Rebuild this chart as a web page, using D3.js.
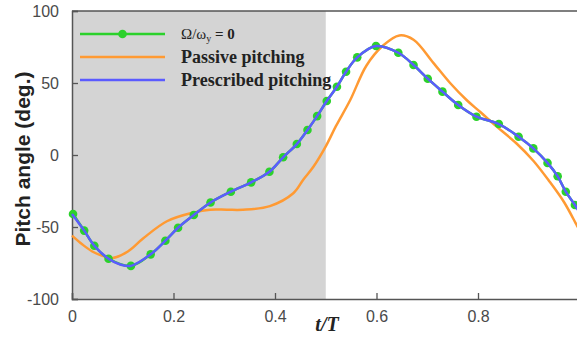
<!DOCTYPE html>
<html>
<head>
<meta charset="utf-8">
<script src="https://cdn.jsdelivr.net/npm/d3@7/dist/d3.min.js"></script>
<style>
  html, body { margin: 0; padding: 0; background: #fff; }
  svg { display: block; }
</style>
</head>
<body>
<svg id="chart" width="577" height="339"></svg>
<script>
// ---- Data ----
const xTicks = [0, 0.2, 0.4, 0.6, 0.8];
const xTickLabels = ["0", "0.2", "0.4", "0.6", "0.8"];
const yTicks = [100, 50, 0, -50, -100];
const yTickLabels = ["100", "50", "0", "-50", "-100"];
const shadedRange = [0, 0.5];

// Ω/ωy = 0 (green markers) – sampled points
const tMarkers = [0.002, 0.024, 0.044, 0.072, 0.116, 0.155, 0.184, 0.209, 0.240, 0.273,
                  0.313, 0.353, 0.389, 0.416, 0.443, 0.464, 0.483, 0.502, 0.522, 0.540,
                  0.562, 0.599, 0.643, 0.673, 0.701, 0.730, 0.761, 0.797, 0.841, 0.880,
                  0.909, 0.937, 0.957, 0.973, 0.991];
const zeroRatioPitch = [-41, -52.5, -63, -72, -77, -69, -59.5, -50.5, -41.7, -33,
                        -25.5, -19, -11.6, -1.6, 7.6, 17.4, 27, 37.5, 47.4, 57.8,
                        67.8, 75.7, 71, 62.5, 53, 44, 34.7, 26.6, 21.5, 12.7,
                        4.6, -5.5, -14.8, -25.5, -34.7];

// Prescribed pitching (blue line)
const tPrescribed = [0, 0.024, 0.044, 0.072, 0.095, 0.116, 0.155, 0.184, 0.209, 0.240,
                     0.273, 0.313, 0.353, 0.389, 0.416, 0.443, 0.464, 0.483, 0.502, 0.522,
                     0.540, 0.562, 0.599, 0.643, 0.673, 0.701, 0.730, 0.761, 0.797, 0.841,
                     0.880, 0.909, 0.937, 0.957, 0.973, 0.991, 1.0];
const prescribedPitch = [-41, -52.5, -63, -72, -76, -77, -69, -59.5, -50.5, -41.7,
                         -33, -25.5, -19, -11.6, -1.6, 7.6, 17.4, 27, 37.5, 47.4,
                         57.8, 67.8, 75.7, 71, 62.5, 53, 44, 34.7, 26.6, 21.5,
                         12.7, 4.6, -5.5, -14.8, -25.5, -34.7, -40];

// Passive pitching (orange line)
const tPassive = [0, 0.02, 0.04, 0.06, 0.08, 0.11, 0.14, 0.187, 0.239, 0.272,
                  0.305, 0.337, 0.39, 0.436, 0.456, 0.476, 0.5, 0.52, 0.548, 0.58,
                  0.613, 0.645, 0.673, 0.712, 0.745, 0.778, 0.804, 0.837, 0.876, 0.909,
                  0.94, 0.97, 0.995, 1.0];
const passivePitch = [-56, -62, -67, -70, -71.5, -67, -58, -46, -40, -38,
                      -38, -38, -35.5, -26.6, -17, -8, 6, 20, 38, 62,
                      76, 83, 80, 64, 50, 38, 30, 19.7, 8, -4,
                      -18, -33, -49, -52];

const legendLabels = ["Passive pitching", "Prescribed pitching"];

// ---- Layout ----
const svg = d3.select("#chart");
const x = d3.scaleLinear().domain([0, 1]).range([72, 579.5]);
const y = d3.scaleLinear().domain([-100, 100]).range([299, 11]);

const colGreen = "#2bd12b", colOrange = "#ff9a33", colBlue = "#5b5bff", axisCol = "#555";

// shaded region
svg.append("rect")
  .attr("x", x(shadedRange[0])).attr("y", y(100))
  .attr("width", x(shadedRange[1]) - x(shadedRange[0]))
  .attr("height", y(-100) - y(100))
  .attr("fill", "#d4d4d4");

// axes with inward ticks
const xAxis = d3.axisBottom(x).tickValues(xTicks).tickSize(-6)
  .tickFormat((d, i) => xTickLabels[i]).tickPadding(12);
const gx = svg.append("g").attr("transform", `translate(0,${y(-100)})`).call(xAxis);
const yAxis = d3.axisLeft(y).tickValues(yTicks).tickSize(-6)
  .tickFormat((d, i) => yTickLabels[i]).tickPadding(13);
const gy = svg.append("g").attr("transform", `translate(${x(0)},0)`).call(yAxis);
[gx, gy].forEach(g => {
  g.select(".domain").attr("stroke", axisCol).attr("stroke-width", 1.5);
  g.selectAll(".tick line").attr("stroke", axisCol).attr("stroke-width", 1.3);
  g.selectAll(".tick text")
    .attr("font-family", "Liberation Sans, Arial, sans-serif")
    .attr("font-size", 16).attr("fill", "#4a4a4a");
});
gy.selectAll(".tick text").attr("dy", "0.36em");

// top / right frame
svg.append("line").attr("x1", x(0)).attr("x2", x(1)).attr("y1", y(100)).attr("y2", y(100))
  .attr("stroke", axisCol).attr("stroke-width", 1.5);
svg.append("line").attr("x1", x(1)).attr("x2", x(1)).attr("y1", y(100)).attr("y2", y(-100))
  .attr("stroke", axisCol).attr("stroke-width", 1.5);

// lines
const line = d3.line().x(d => x(d[0])).y(d => y(d[1])).curve(d3.curveCatmullRom.alpha(0.5));
const zip = (a, b) => a.map((v, i) => [v, b[i]]);

const plot = svg.append("g");
plot.append("path").datum(zip(tPassive, passivePitch))
  .attr("d", line).attr("fill", "none").attr("stroke", colOrange).attr("stroke-width", 2.5);
plot.append("path").datum(zip(tMarkers, zeroRatioPitch))
  .attr("d", line).attr("fill", "none").attr("stroke", colGreen).attr("stroke-width", 2.5);
plot.selectAll("circle.m").data(zip(tMarkers, zeroRatioPitch)).enter()
  .append("circle").attr("class", "m")
  .attr("cx", d => x(d[0])).attr("cy", d => y(d[1])).attr("r", 4.3)
  .attr("fill", colGreen);
plot.append("path").datum(zip(tPrescribed, prescribedPitch))
  .attr("d", line).attr("fill", "none").attr("stroke", colBlue).attr("stroke-width", 2.5);

// legend
const lg = svg.append("g");
const lx1 = 80, lx2 = 165, tx = 181;
const rows = [34, 57, 80];
lg.append("line").attr("x1", lx1).attr("x2", lx2).attr("y1", rows[0]).attr("y2", rows[0])
  .attr("stroke", colGreen).attr("stroke-width", 2.5);
lg.append("circle").attr("cx", (lx1 + lx2) / 2).attr("cy", rows[0]).attr("r", 4.3).attr("fill", colGreen);
lg.append("line").attr("x1", lx1).attr("x2", lx2).attr("y1", rows[1]).attr("y2", rows[1])
  .attr("stroke", colOrange).attr("stroke-width", 2.5);
lg.append("line").attr("x1", lx1).attr("x2", lx2).attr("y1", rows[2]).attr("y2", rows[2])
  .attr("stroke", colBlue).attr("stroke-width", 2.5);

const t0 = lg.append("text").attr("x", tx).attr("y", rows[0] + 5)
  .attr("font-family", "Liberation Serif, Times New Roman, serif")
  .attr("font-size", 15).attr("fill", "#222");
t0.append("tspan").text("Ω/ω");
t0.append("tspan").attr("font-size", 10).attr("dy", 3).text("y");
t0.append("tspan").attr("dy", -3).attr("font-weight", "bold").text(" = 0");

legendLabels.forEach((lab, i) => {
  lg.append("text").attr("x", tx).attr("y", rows[i + 1] + 6)
    .attr("font-family", "Liberation Serif, Times New Roman, serif")
    .attr("font-weight", "bold").attr("font-size", 18).attr("fill", "#222")
    .text(lab);
});

// axis titles
svg.append("text")
  .attr("transform", `translate(30,${(y(100) + y(-100)) / 2 + 4}) rotate(-90)`)
  .attr("text-anchor", "middle")
  .attr("font-family", "Liberation Sans, Arial, sans-serif")
  .attr("font-weight", "bold").attr("font-size", 21).attr("fill", "#222")
  .text("Pitch angle (deg.)");

svg.append("text").attr("x", 327).attr("y", 331).attr("text-anchor", "middle")
  .attr("font-family", "Liberation Serif, Times New Roman, serif")
  .attr("font-weight", "bold").attr("font-style", "italic").attr("font-size", 20).attr("fill", "#222")
  .text("t/T");
</script>
</body>
</html>
